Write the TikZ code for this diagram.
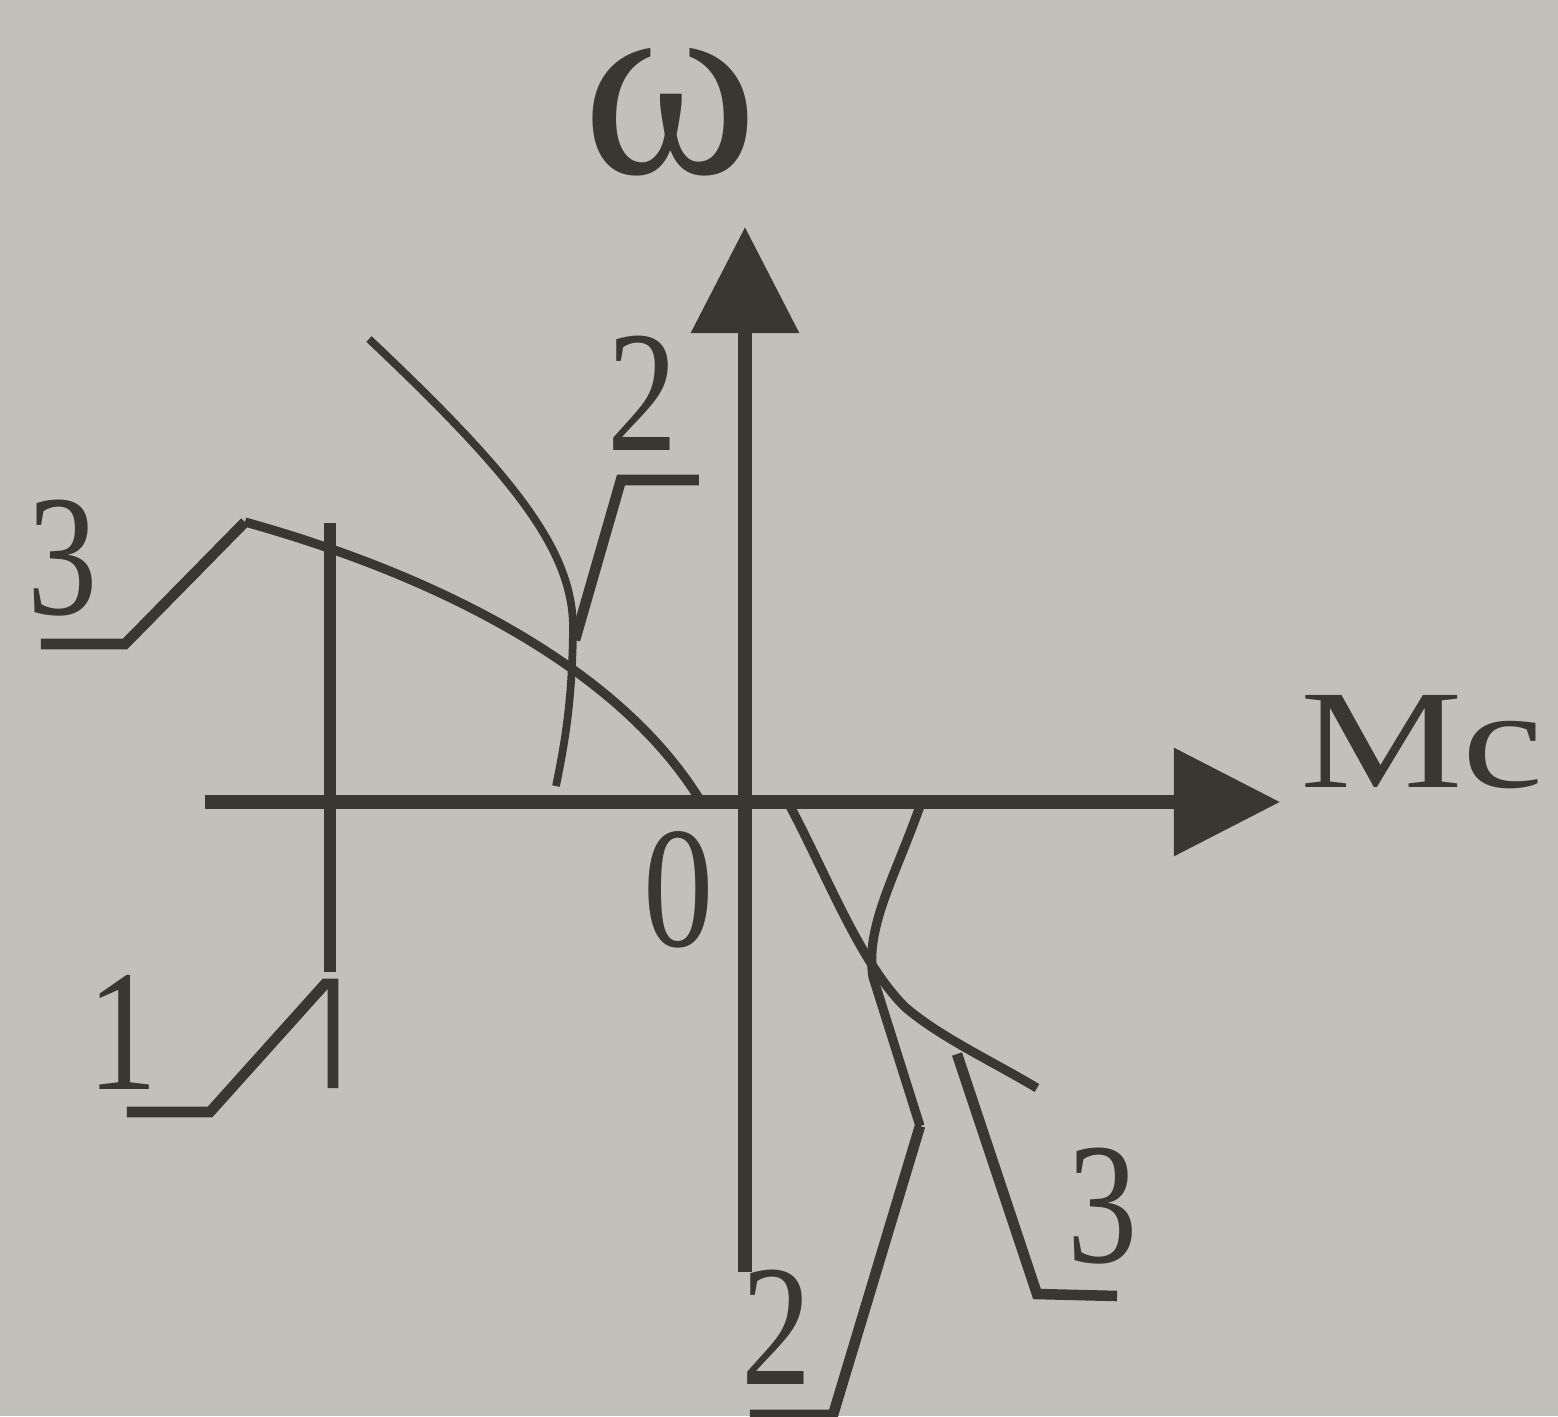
\documentclass[tikz,border=0pt]{standalone}
\usepackage{fontspec}
\setmainfont{Liberation Serif}
\usetikzlibrary{arrows.meta}
\definecolor{paper}{RGB}{193,192,187}
\definecolor{ink}{RGB}{58,54,49}
\begin{document}
\begin{tikzpicture}[
  axis/.style={ink,line width=3.8pt,-{Triangle[length=1.06cm,width=1.05cm]}},
  curve/.style={ink,line width=2.6pt},
  leader/.style={ink,line width=3pt},
  lbl/.style={ink,font=\fontsize{40}{48}\selectfont,yscale=1.23,inner sep=0pt}]
\fill[paper] (-7.45,-6.14) rectangle (8.13,8.02);
\useasboundingbox (-7.45,-6.14) rectangle (8.13,8.02);
% axes
\draw[axis] (-5.40,0) -- (5.35,0);
\draw[axis] (0,-4.70) -- (0,5.75);
\node[ink,font=\fontsize{76}{84}\selectfont,inner sep=0pt] (w) at (-0.75,6.90) {ω};
\node[ink,font=\fontsize{40}{48}\selectfont,xscale=1.3,inner sep=0pt] (mc) at (6.77,0.60) {Mc};
\node[lbl] (zero) at (-0.66,-0.88) {0};
% line 1
\draw[ink,line width=3.4pt] (-4.15,2.79) -- (-4.15,-1.70);
\node[lbl] (n1) at (-6.22,-2.30) {1};
\draw[leader] (-6.18,-3.10) -- (-5.35,-3.10) -- (-4.20,-1.82) -- (-4.12,-1.82) -- (-4.12,-2.86);
% curves 3
\coordinate (c3a) at (-5.00,2.80);
\draw[curve] (c3a) .. controls (-3.2,2.3) and (-1.3,1.4) .. (-0.45,0.02) -- (-0.25,0);
\node[lbl] (n3a) at (-6.82,2.44) {3};
\draw[leader] (-7.04,1.58) -- (-6.20,1.58) -- (c3a);
\draw[curve] (0.45,-0.04) .. controls (0.85,-0.80) and (1.15,-1.60) .. (1.60,-2.05)
  .. controls (1.95,-2.35) and (2.45,-2.58) .. (2.92,-2.86);
\coordinate (c3b) at (2.12,-2.52);
\node[lbl] (n3b) at (3.58,-4.04) {3};
\draw[leader] (c3b) -- (2.92,-4.92) -- (3.72,-4.94);
% curves 2
\coordinate (c2a) at (-1.70,1.62);
\draw[curve,line width=2.2pt] (-3.76,4.63) .. controls (-2.3,3.25) and (-1.70,2.5) .. (-1.72,1.70)
  .. controls (-1.73,1.0) and (-1.80,0.6) .. (-1.89,0.16);
\node[lbl] (n2a) at (-1.02,4.09) {2};
\draw[leader] (-0.46,3.22) -- (-1.24,3.22) -- (c2a);
\coordinate (c2b) at (1.75,-3.24);
\draw[curve] (1.75,-0.04) .. controls (1.50,-0.75) and (1.20,-1.25) .. (1.28,-1.75) -- (c2b);
\node[lbl] (n2b) at (0.32,-5.25) {2};
\draw[leader] (c2b) -- (0.88,-6.13) -- (0.05,-6.13);
\end{tikzpicture}
\end{document}
